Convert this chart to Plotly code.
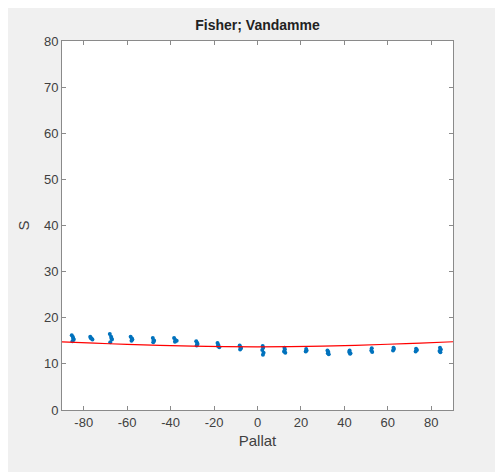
import plotly.graph_objects as go

# Observed points (pole latitude, S)
pallat = [
    -85.5, -85.0, -84.6, -85.2, -84.8,
    -77.0, -76.4, -76.0, -76.8,
    -68.0, -67.4, -67.0, -67.8, -67.2,
    -58.4, -57.8, -58.0, -57.6,
    -48.2, -47.8, -48.0, -47.6,
    -38.4, -37.8, -37.2, -38.0,
    -28.2, -27.8, -28.0, -27.6,
    -18.4, -18.0, -17.6, -18.2,
    -8.2, -7.8, -8.0, -7.6,
    2.4, 2.6, 2.2, 2.8, 2.5,
    12.4, 12.6, 12.2, 12.8,
    22.4, 22.6, 22.2,
    32.2, 32.6, 32.4, 32.8,
    42.4, 42.2, 42.8, 42.6,
    52.6, 52.4, 52.8,
    62.6, 62.8, 62.4,
    73.0, 73.4, 72.8,
    84.0, 84.4, 83.8, 84.2,
]
s_vals = [
    16.2, 15.8, 15.3, 14.9, 15.5,
    15.9, 15.5, 15.3, 15.6,
    16.5, 15.9, 15.3, 14.7, 15.5,
    15.9, 15.5, 15.0, 15.3,
    15.6, 15.1, 14.7, 15.0,
    15.6, 15.2, 15.0, 14.8,
    14.9, 14.5, 14.0, 14.3,
    14.5, 14.1, 13.6, 13.9,
    14.0, 13.6, 13.1, 13.4,
    13.9, 13.5, 13.0, 12.4, 12.0,
    13.5, 13.1, 12.7, 12.4,
    13.2, 12.9, 12.7,
    12.9, 12.6, 12.3, 12.1,
    12.9, 12.6, 12.3, 12.2,
    13.4, 12.9, 12.6,
    13.5, 13.2, 12.9,
    13.3, 13.0, 12.7,
    13.5, 13.1, 12.8, 12.5,
]

# Fitted curve
fit_lat = [-90, -75, -60, -45, -30, -15, 0, 15, 30, 45, 60, 75, 90]
fit_s = [14.75, 14.48, 14.23, 14.02, 13.85, 13.74, 13.7, 13.74, 13.85, 14.03, 14.25, 14.5, 14.8]

x_ticks = [-80, -60, -40, -20, 0, 20, 40, 60, 80]
y_ticks = [0, 10, 20, 30, 40, 50, 60, 70, 80]

FONT = "Liberation Sans, Arial, sans-serif"

fig = go.Figure()
fig.add_trace(go.Scatter(
    x=pallat, y=s_vals, mode="markers",
    marker=dict(color="#0072BD", size=4, line=dict(width=0)),
    showlegend=False,
))
fig.add_trace(go.Scatter(
    x=fit_lat, y=fit_s, mode="lines", line_shape="spline",
    line=dict(color="#FF0000", width=1.2),
    showlegend=False,
))

axis_common = dict(
    showline=True, linecolor="#8a8a8a", linewidth=1, mirror="allticks",
    ticks="inside", ticklen=4, tickcolor="#8a8a8a", tickwidth=1,
    showgrid=False, zeroline=False,
    tickfont=dict(family=FONT, size=13, color="#404040"),
)

fig.update_xaxes(
    range=[-90, 90], tickvals=x_ticks, ticktext=[str(v) for v in x_ticks],
    title=dict(text="Pallat", font=dict(family=FONT, size=15, color="#404040"), standoff=6),
    **axis_common,
)
fig.update_yaxes(
    range=[0, 80], tickvals=y_ticks, ticktext=[str(v) for v in y_ticks],
    title=dict(text="S", font=dict(family=FONT, size=15, color="#404040"), standoff=10),
    **axis_common,
)

fig.update_layout(
    width=503, height=472,
    margin=dict(l=54, r=58, t=33, b=70),
    paper_bgcolor="#f0f0f0",
    plot_bgcolor="white",
    title=dict(text="<b>Fisher; Vandamme</b>", x=0.5, xanchor="center", xref="paper",
               y=1 - 17 / 472, yanchor="middle",
               font=dict(family=FONT, size=14, color="#222222")),
)

fig.write_html("out.html")
